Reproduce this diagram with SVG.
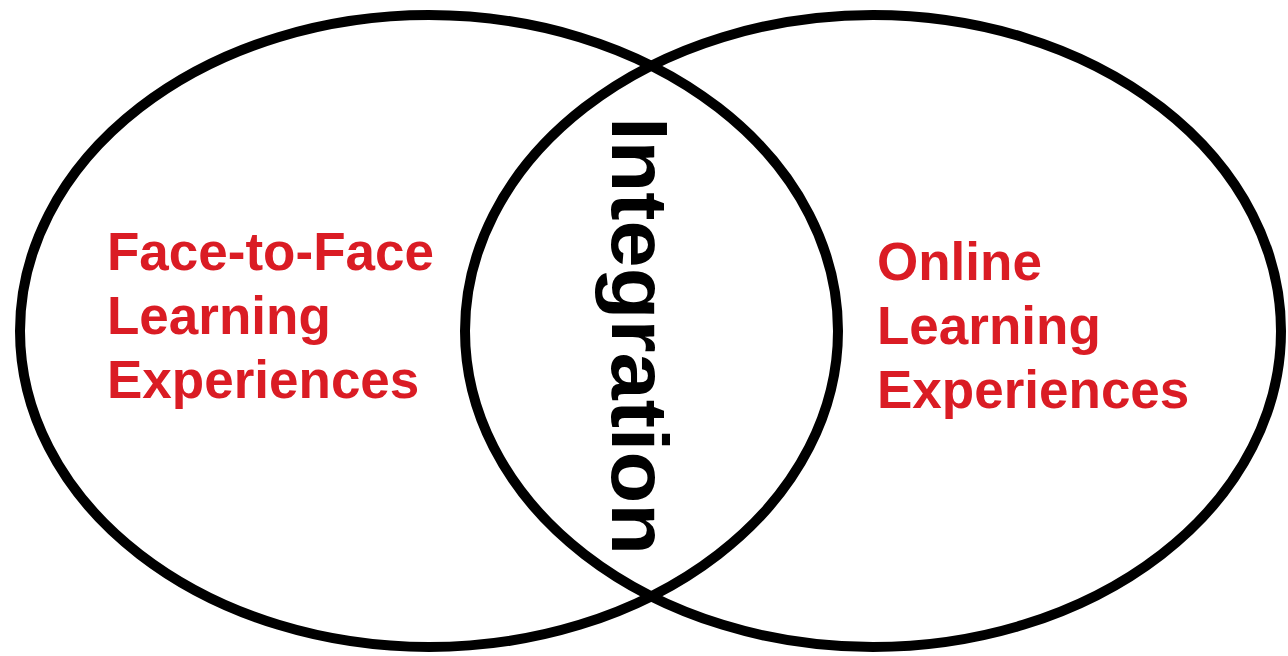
<svg xmlns="http://www.w3.org/2000/svg" width="1288" height="656" viewBox="0 0 1288 656">
<style>
.ring{fill:none;stroke:#000;stroke-width:10}
.lbl{font-family:"Liberation Sans",Arial,sans-serif;font-weight:bold;font-size:53px;fill:#da1c24}
.mid{font-family:"Liberation Sans",Arial,sans-serif;font-weight:bold;font-size:80px;fill:#000}
</style>
<rect width="1288" height="656" fill="#fff"/>
<g id="face-to-face">
<ellipse class="ring" cx="429" cy="331" rx="409" ry="316"/>
<text class="lbl" x="107" y="270">Face-to-Face</text>
<text class="lbl" x="107" y="334">Learning</text>
<text class="lbl" x="107" y="398">Experiences</text>
</g>
<g id="online">
<ellipse class="ring" cx="873" cy="331" rx="408" ry="316"/>
<text class="lbl" x="877" y="280">Online</text>
<text class="lbl" x="877" y="344">Learning</text>
<text class="lbl" x="877" y="408">Experiences</text>
</g>
<g id="integration">
<text class="mid" transform="translate(612,117) rotate(90)" textLength="438" lengthAdjust="spacingAndGlyphs">Integration</text>
</g>
<g id="connectors"></g>
</svg>
